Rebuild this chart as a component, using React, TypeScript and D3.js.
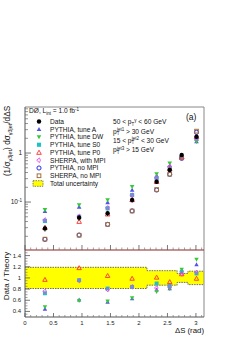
import React from 'react';
import * as d3 from 'd3';

const binCenters = [0.35, 0.95, 1.45, 1.88, 2.31, 2.54, 2.75, 3.01];
const binEdges = [0, 0.7, 1.2, 1.7, 2.14, 2.45, 2.67, 2.86, Math.PI];

const dataVals = [0.029, 0.048, 0.059, 0.110, 0.260, 0.45, 0.91, 2.15];
const dataErr = [0.004, 0.006, 0.007, 0.012, 0.025, 0.04, 0.08, 0.18];

const tuneA = [0.065, 0.080, 0.0985, 0.176, 0.345, 0.55, 0.80, 1.73];
const tuneDW = [0.069, 0.087, 0.110, 0.205, 0.373, 0.615, 0.79, 1.70];
const tuneS0 = [0.041, 0.050, 0.0744, 0.139, 0.304, 0.50, 0.83, 1.99];
const tuneP0 = [0.030, 0.040, 0.0565, 0.111, 0.26, 0.48, 0.85, 2.17];
const sherpaMPI = [0.043, 0.051, 0.076, 0.137, 0.31, 0.53, 0.85, 1.95];
const pythiaNoMPI = [0.0173, 0.0212, 0.035, 0.066, 0.176, 0.367, 0.78, 2.64];
const sherpaNoMPI = [0.0175, 0.021, 0.035, 0.0655, 0.18, 0.37, 0.80, 2.8];

const ratioA = [0.445, 0.61, 0.57, 0.63, 0.79, 0.81, 1.14, 1.24];
const ratioDW = [0.48, 0.59, 0.58, 0.64, 0.75, 0.80, 1.15, 1.33];
const ratioS0 = [0.725, 0.96, 0.81, 0.84, 0.90, 0.86, 1.10, 1.08];
const ratioP0 = [0.97, 1.18, 1.04, 0.99, 1.01, 0.93, 1.07, 0.99];
const ratioSherpa = [0.76, 0.95, 0.79, 0.84, 0.82, 0.84, 1.07, 1.10];

const bandHalf = [0.19, 0.19, 0.19, 0.19, 0.13, 0.13, 0.08, 0.12];

const xTicks = [0, 0.5, 1, 1.5, 2, 2.5, 3];
const xTickLabels = ['0', '0.5', '1', '1.5', '2', '2.5', '3'];
const ratioTicks = [0.4, 0.6, 0.8, 1, 1.2, 1.4];
const ratioTickLabels = ['0.4', '0.6', '0.8', '1', '1.2', '1.4'];

type Series = { name: string; vals: number[]; ratio: number[] | null; marker: string; color: string };

const series: Series[] = [
  { name: 'PYTHIA, tune A', vals: tuneA, ratio: ratioA, marker: 'triUp', color: '#5454e6' },
  { name: 'PYTHIA, tune DW', vals: tuneDW, ratio: ratioDW, marker: 'triDown', color: '#36c936' },
  { name: 'PYTHIA, tune S0', vals: tuneS0, ratio: ratioS0, marker: 'square', color: '#1fc2c2' },
  { name: 'PYTHIA, tune P0', vals: tuneP0, ratio: ratioP0, marker: 'triUpOpen', color: '#ff3030' },
  { name: 'SHERPA, with MPI', vals: sherpaMPI, ratio: ratioSherpa, marker: 'diamondOpen', color: '#ee44ee' },
  { name: 'PYTHIA, no MPI', vals: pythiaNoMPI, ratio: null, marker: 'circleOpen', color: '#2a2aee' },
  { name: 'SHERPA, no MPI', vals: sherpaNoMPI, ratio: null, marker: 'squareOpen', color: '#a0703c' },
];

const FONT = 'Liberation Sans, Arial, Helvetica, sans-serif';

function Marker({ type, x, y, s, color }: { type: string; x: number; y: number; s: number; color: string }) {
  const h = s / 2;
  switch (type) {
    case 'circle':
      return <circle cx={x} cy={y} r={h} fill={color} />;
    case 'circleOpen':
      return <circle cx={x} cy={y} r={h * 0.9} fill="none" stroke={color} strokeWidth={1} />;
    case 'square':
      return <rect x={x - h * 0.9} y={y - h * 0.9} width={h * 1.8} height={h * 1.8} fill={color} />;
    case 'squareOpen':
      return <rect x={x - h * 0.8} y={y - h * 0.8} width={h * 1.6} height={h * 1.6} fill="none" stroke={color} strokeWidth={1} />;
    case 'triUp':
      return <path d={`M${x},${y - h}L${x + h},${y + h * 0.8}L${x - h},${y + h * 0.8}Z`} fill={color} />;
    case 'triUpOpen':
      return <path d={`M${x},${y - h}L${x + h},${y + h * 0.8}L${x - h},${y + h * 0.8}Z`} fill="none" stroke={color} strokeWidth={0.9} />;
    case 'triDown':
      return <path d={`M${x},${y + h}L${x + h},${y - h * 0.8}L${x - h},${y - h * 0.8}Z`} fill={color} />;
    case 'diamondOpen':
      return <path d={`M${x - h},${y}L${x + h * 0.2},${y - h}L${x + h * 0.6},${y}L${x + h * 0.2},${y + h}Z`} fill="none" stroke={color} strokeWidth={0.9} />;
    default:
      return null;
  }
}

export default function App() {
  const L = 25, R = 204, T = 107, MB = 250, B = 317;
  const x = d3.scaleLinear().domain([0, Math.PI]).range([L, R]);
  const yTop = d3.scaleLog().domain([0.0105, 8.7]).range([MB, T]);
  const yRat = d3.scaleLinear().domain([0.3, 1.5]).range([B, MB]);

  const minorX = d3.range(0, 3.15, 0.1).filter((v) => Math.abs(v * 2 - Math.round(v * 2)) > 1e-6);
  const topMajor = [0.1, 1];
  const topMinor: number[] = [];
  [0.01, 0.1, 1].forEach((dec) => {
    for (let k = 2; k <= 9; k++) {
      const v = dec * k;
      if (v >= 0.0105 && v <= 8.7) topMinor.push(v);
    }
  });
  const ratMinor = d3.range(0.35, 1.5, 0.05).filter((v) => Math.abs(v * 5 - Math.round(v * 5)) > 1e-6);

  const bandPts: { xv: number; h: number }[] = [];
  bandHalf.forEach((h, i) => {
    bandPts.push({ xv: binEdges[i], h });
    bandPts.push({ xv: binEdges[i + 1], h });
  });
  const area = d3.area<{ xv: number; h: number }>()
    .x((d) => x(d.xv))
    .y0((d) => yRat(1 - d.h))
    .y1((d) => yRat(1 + d.h));
  const lineTop = d3.line<{ xv: number; h: number }>().x((d) => x(d.xv)).y((d) => yRat(1 + d.h));
  const lineBot = d3.line<{ xv: number; h: number }>().x((d) => x(d.xv)).y((d) => yRat(1 - d.h));

  const legX = 39, legTX = 50, legY0 = 121.5, legStep = 7.75;
  const fs = 6.6;

  return (
    <svg width={240} height={340} style={{ position: 'absolute', left: 0, top: 0, background: '#fff' }} fontFamily={FONT}>
      <rect x={0} y={0} width={240} height={340} fill="#fff" />
      {/* ratio band */}
      <path d={area(bandPts) || ''} fill="#ffff00" />
      <path d={lineTop(bandPts) || ''} fill="none" stroke="#333" strokeWidth={0.7} strokeDasharray="1.5,1" />
      <path d={lineBot(bandPts) || ''} fill="none" stroke="#333" strokeWidth={0.7} strokeDasharray="1.5,1" />

      {/* frames */}
      <line x1={L} y1={T} x2={R} y2={T} stroke="#888" strokeWidth={1} />
      <line x1={R} y1={T} x2={R} y2={B} stroke="#888" strokeWidth={1} />
      <line x1={L} y1={T} x2={L} y2={B} stroke="#555" strokeWidth={1} />
      <line x1={L} y1={B} x2={R} y2={B} stroke="#555" strokeWidth={1} />
      <line x1={L} y1={MB} x2={R} y2={MB} stroke="#8b2323" strokeWidth={1} />

      {/* top x ticks */}
      {xTicks.map((v, i) => (
        <line key={'tx' + i} x1={x(v)} x2={x(v)} y1={MB} y2={MB - 5} stroke="#555" strokeWidth={0.8} />
      ))}
      {minorX.map((v, i) => (
        <line key={'tmx' + i} x1={x(v)} x2={x(v)} y1={MB} y2={MB - 2.5} stroke="#777" strokeWidth={0.7} />
      ))}
      {/* bottom x ticks */}
      {xTicks.map((v, i) => (
        <line key={'bx' + i} x1={x(v)} x2={x(v)} y1={B} y2={B - 4} stroke="#555" strokeWidth={0.8} />
      ))}
      {minorX.map((v, i) => (
        <line key={'bmx' + i} x1={x(v)} x2={x(v)} y1={B} y2={B - 2} stroke="#777" strokeWidth={0.7} />
      ))}
      {xTicks.map((v, i) => (
        <text key={'xl' + i} x={x(v)} y={325} fontSize={6} textAnchor="middle" fill="#222">{xTickLabels[i]}</text>
      ))}

      {/* top y ticks */}
      {topMajor.map((v, i) => (
        <line key={'ty' + i} x1={L} x2={L + 6} y1={yTop(v)} y2={yTop(v)} stroke="#555" strokeWidth={0.8} />
      ))}
      {topMinor.map((v, i) => (
        <line key={'tmy' + i} x1={L} x2={L + 3} y1={yTop(v)} y2={yTop(v)} stroke="#666" strokeWidth={0.7} />
      ))}
      <text x={22} y={yTop(1) + 2.2} fontSize={6.5} textAnchor="end" fill="#222">1</text>
      <text x={22} y={yTop(0.1) + 2.2} fontSize={6.5} textAnchor="end" fill="#222">
        10<tspan dy={-2.5} fontSize={4.5}>-1</tspan>
      </text>

      {/* ratio y ticks */}
      {ratioTicks.map((v, i) => (
        <line key={'ry' + i} x1={L} x2={L + 5} y1={yRat(v)} y2={yRat(v)} stroke="#555" strokeWidth={0.8} />
      ))}
      {ratMinor.map((v, i) => (
        <line key={'rmy' + i} x1={L} x2={L + 2.5} y1={yRat(v)} y2={yRat(v)} stroke="#777" strokeWidth={0.7} />
      ))}
      {ratioTicks.map((v, i) => (
        <text key={'rl' + i} x={21} y={yRat(v) + 2} fontSize={6} textAnchor="end" fill="#222">{ratioTickLabels[i]}</text>
      ))}

      {/* theory points top */}
      {series.map((s) =>
        s.vals.map((v, i) => (
          <Marker key={s.name + i} type={s.marker} x={x(binCenters[i])} y={yTop(v)} s={4.6} color={s.color} />
        ))
      )}
      {/* data */}
      {dataVals.map((v, i) => (
        <g key={'d' + i}>
          <line x1={x(binCenters[i])} x2={x(binCenters[i])} y1={yTop(v - dataErr[i])} y2={yTop(v + dataErr[i])} stroke="#000" strokeWidth={0.9} />
          <Marker type="circle" x={x(binCenters[i])} y={yTop(v)} s={4.4} color="#000" />
        </g>
      ))}

      {/* ratio points */}
      {series.filter((s) => s.ratio).map((s) =>
        (s.ratio as number[]).map((v, i) => (
          <Marker key={'r' + s.name + i} type={s.marker} x={x(binCenters[i])} y={yRat(v)} s={4.4} color={s.color} />
        ))
      )}

      {/* legend */}
      <text x={29} y={113} fontSize={fs} fill="#111">
        DØ, L<tspan dy={1.5} fontSize={4.5}>int</tspan><tspan dy={-1.5}> = 1.0 fb</tspan><tspan dy={-2.5} fontSize={4.5}>-1</tspan>
      </text>
      <Marker type="circle" x={legX} y={legY0} s={4.4} color="#000" />
      <text x={legTX} y={legY0 + 2.3} fontSize={fs} fill="#111">Data</text>
      {series.map((s, i) => (
        <g key={'leg' + i}>
          <Marker type={s.marker} x={legX} y={legY0 + (i + 1) * legStep} s={4.6} color={s.color} />
          <text x={legTX} y={legY0 + (i + 1) * legStep + 2.3} fontSize={fs} fill="#111">{s.name}</text>
        </g>
      ))}
      <rect x={33} y={legY0 + 8 * legStep - 2.8} width={10} height={5.6} fill="#ffff00" stroke="#333" strokeWidth={0.6} strokeDasharray="1.5,1" />
      <text x={legTX} y={legY0 + 8 * legStep + 2.3} fontSize={fs} fill="#111">Total uncertainty</text>

      {/* cuts */}
      <text x={113} y={124} fontSize={fs} fill="#111">
        50 &lt; p<tspan dy={1.5} fontSize={4.5}>T</tspan><tspan dy={-4} fontSize={4.5}>γ</tspan><tspan dy={2.5}> &lt; 60 GeV</tspan>
      </text>
      <text x={113} y={133.5} fontSize={fs} fill="#111">
        p<tspan dy={1.5} fontSize={4.5}>T</tspan><tspan dy={-4} dx={-2.5} fontSize={4.5}>jet1</tspan><tspan dy={2.5}> &gt; 30 GeV</tspan>
      </text>
      <text x={113} y={142.8} fontSize={fs} fill="#111">
        15 &lt; p<tspan dy={1.5} fontSize={4.5}>T</tspan><tspan dy={-4} dx={-2.5} fontSize={4.5}>jet2</tspan><tspan dy={2.5}> &lt; 30 GeV</tspan>
      </text>
      <text x={113} y={152} fontSize={fs} fill="#111">
        p<tspan dy={1.5} fontSize={4.5}>T</tspan><tspan dy={-4} dx={-2.5} fontSize={4.5}>jet3</tspan><tspan dy={2.5}> &gt; 15 GeV</tspan>
      </text>
      <text x={186} y={120} fontSize={8.5} fill="#111">(a)</text>

      {/* axis titles */}
      <text transform="translate(10,141) rotate(-90)" fontSize={8.2} textAnchor="middle" fill="#111">
        (1/σ<tspan dy={1.8} fontSize={5.5}>γ3jet</tspan><tspan dy={-1.8}>) dσ</tspan><tspan dy={1.8} fontSize={5.5}>γ3jet</tspan><tspan dy={-1.8}>/dΔS</tspan>
      </text>
      <text transform="translate(9,276) rotate(-90)" fontSize={8} textAnchor="middle" fill="#111">Data / Theory</text>
      <text x={204} y={333} fontSize={7.8} textAnchor="end" fill="#111">ΔS (rad)</text>
    </svg>
  );
}
